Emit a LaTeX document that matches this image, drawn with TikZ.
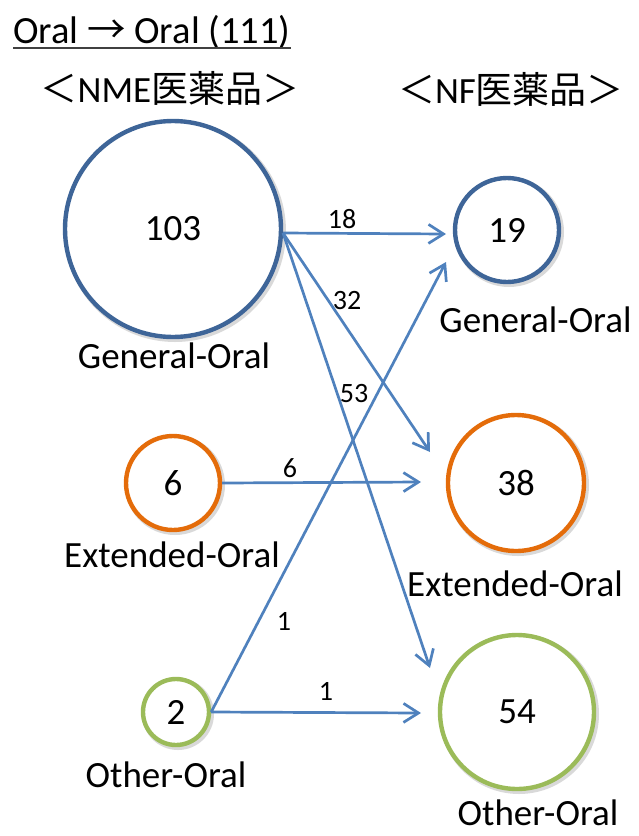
\documentclass[tikz,border=0pt]{standalone}
\usepackage{fontspec}
\setmainfont{Carlito}
\newfontfamily\cjk{Noto Sans CJK JP}
\usetikzlibrary{arrows.meta}

\definecolor{genblue}{RGB}{62,101,152}
\definecolor{extorange}{RGB}{228,108,10}
\definecolor{othgreen}{RGB}{155,187,89}
\definecolor{flowblue}{RGB}{79,129,189}

\tikzset{
  ring/.style={circle, draw=#1, line width=4.4pt, inner sep=0pt, fill=white,
    font=\fontsize{37}{44}\selectfont},
  ringshade/.style={circle, draw=black, draw opacity=0.15, line width=6pt, inner sep=0pt},
  catlabel/.style={anchor=base, inner sep=0pt, font=\fontsize{37}{44}\selectfont},
  flow/.style={draw=flowblue, line width=2.7pt,
    -{Straight Barb[length=15pt, width=19pt, line width=2.7pt]}},
  flowlabel/.style={inner sep=0pt, font=\fontsize{28}{33}\selectfont},
  heading/.style={anchor=base, inner sep=0pt, font=\fontsize{37}{44}\selectfont},
}

\begin{document}
\begin{tikzpicture}[x=1pt, y=-1pt]
\useasboundingbox (0,0) rectangle (638,836);

% title and column headings
\node[heading, anchor=base west, font=\fontsize{38.5}{46}\selectfont] (title) at (13,43)
  {Oral {\cjk →} Oral (111)};
\draw[line width=1.5pt, black!75] ([yshift=-5pt]title.base west) -- ([yshift=-5pt]title.base east);
\node[heading] (hnme) at (170,102) {{\cjk ＜}NME{\cjk 医薬品＞}};
\node[heading] (hnf) at (511,103) {{\cjk ＜}NF{\cjk 医薬品＞}};

% soft shadows behind the rings
\foreach \x/\y/\d in {175/231/216, 175/485/94, 178/714/66,
                      509/232/104, 518/485/136, 519/714/154}
  \node[ringshade, minimum size=\d pt] at (\x,\y) {};

% NME side
\node[ring=genblue, minimum size=216pt] (nmegen) at (173,229) {103};
\node[ring=extorange, minimum size=94pt] (nmeext) at (173,483) {6};
\node[ring=othgreen, minimum size=66pt] (nmeoth) at (176,712) {2};
\node[catlabel] (lnmegen) at (174,368) {General-Oral};
\node[catlabel] (lnmeext) at (172,567) {Extended-Oral};
\node[catlabel] (lnmeoth) at (166,787) {Other-Oral};

% NF side
\node[ring=genblue, minimum size=104pt] (nfgen) at (507,230) {19};
\node[ring=extorange, minimum size=136pt] (nfext) at (516,483) {38};
\node[ring=othgreen, minimum size=154pt] (nfoth) at (517,712) {54};
\node[catlabel] (lnfgen) at (535.5,332) {General-Oral};
\node[catlabel] (lnfext) at (515,596) {Extended-Oral};
\node[catlabel] (lnfoth) at (538,825) {Other-Oral};

% arrow heads stop short of the target rings
\coordinate (tGen) at (446,234);
\coordinate (tExtA) at (430,452);
\coordinate (tOthA) at (430,668);
\coordinate (tExtB) at (421,482);
\coordinate (tGenB) at (446,262);
\coordinate (tOthB) at (421,713);
\coordinate (sGen) at (283,233);

\draw[flow] (sGen) -- (tGen);
\draw[flow] (sGen) -- (tExtA);
\draw[flow] (sGen) -- (tOthA);
\draw[flow] (nmeext.east) -- (tExtB);
\draw[flow] (nmeoth.east) -- (tGenB);
\draw[flow] (nmeoth.east) -- (tOthB);

% flow counts
\node[flowlabel] (c18) at (342,219) {18};
\node[flowlabel] (c32) at (347,301) {32};
\node[flowlabel] (c53) at (354,394) {53};
\node[flowlabel] (c6) at (290,468) {6};
\node[flowlabel] (c1a) at (284,621) {1};
\node[flowlabel] (c1b) at (326,691) {1};
\end{tikzpicture}
\end{document}
